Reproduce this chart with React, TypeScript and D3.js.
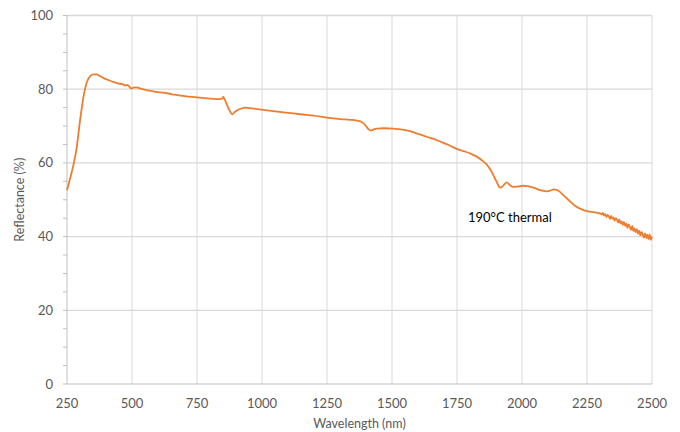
import * as d3 from 'd3';

// wavelength (nm) and reflectance (%)
const wavelengths = [
  250, 262, 274, 287, 300, 313, 326, 340, 352, 364, 376, 388, 405, 427, 445, 465, 475, 483, 490, 496,
  505, 515, 540, 569, 600, 635, 665, 696, 730, 758, 790, 826, 845, 851, 856, 862, 870, 880, 886, 895,
  905, 915, 935, 960, 1005, 1050, 1100, 1146, 1200, 1249, 1300, 1340, 1364, 1380, 1390, 1400, 1410, 1418, 1430, 1441,
  1470, 1505, 1540, 1569, 1600, 1633, 1660, 1685, 1720, 1749, 1775, 1800, 1826, 1851, 1864, 1878, 1890, 1903, 1915, 1925,
  1941, 1955, 1967, 1985, 2005, 2020, 2037, 2055, 2069, 2085, 2095, 2110, 2123, 2133, 2145, 2160, 2172, 2190, 2205, 2223,
  2240, 2261, 2285, 2300, 2306, 2311, 2316, 2320, 2325, 2329, 2334, 2338, 2343, 2347, 2352, 2356, 2361, 2365, 2370, 2374,
  2379, 2383, 2388, 2392, 2397, 2401, 2406, 2410, 2415, 2419, 2424, 2428, 2433, 2437, 2442, 2446, 2451, 2455, 2460, 2464,
  2469, 2473, 2478, 2482, 2487, 2491, 2495, 2500,
];
const reflectance = [
  52.6, 55.8, 59.2, 64.0, 71.4, 77.8, 81.8, 83.6, 84.0, 84.0, 83.6, 83.1, 82.6, 82.0, 81.6, 81.3, 81.0, 81.2, 80.7, 80.2,
  80.4, 80.5, 80.0, 79.6, 79.2, 78.9, 78.5, 78.2, 77.9, 77.7, 77.5, 77.3, 77.4, 77.9, 77.3, 76.3, 75.0, 73.6, 73.2, 73.8,
  74.3, 74.6, 75.0, 74.8, 74.4, 74.0, 73.6, 73.2, 72.8, 72.3, 71.9, 71.7, 71.5, 71.2, 70.8, 70.0, 69.1, 68.8, 69.1, 69.3,
  69.4, 69.3, 69.0, 68.6, 67.9, 67.1, 66.5, 65.8, 64.8, 63.8, 63.2, 62.6, 61.7, 60.4, 59.6, 58.2, 56.7, 54.8, 53.3, 53.6,
  54.7, 53.9, 53.5, 53.6, 53.8, 53.7, 53.4, 53.0, 52.6, 52.4, 52.3, 52.5, 52.8, 52.7, 52.2, 51.2, 50.4, 49.2, 48.3, 47.6,
  47.1, 46.8, 46.5, 46.3, 46.0, 46.4, 45.7, 46.1, 45.3, 45.9, 45.5, 44.8, 45.6, 44.9, 45.2, 44.3, 45.0, 44.6, 43.8, 44.7,
  43.6, 44.1, 43.2, 44.0, 42.9, 43.5, 42.4, 43.3, 42.6, 41.8, 42.9, 41.5, 42.2, 41.2, 42.0, 40.8, 41.6, 40.3, 41.3, 40.6,
  39.7, 40.9, 39.6, 40.5, 39.3, 40.6, 39.1, 40.0,
];

const xTicks = [250, 500, 750, 1000, 1250, 1500, 1750, 2000, 2250, 2500];
const yTicks = [0, 20, 40, 60, 80, 100];
const yMinor = d3.range(0, 101, 5);

const W = 680;
const H = 432;
const left = 67;
const right = 652;
const top = 15.5;
const bottom = 384;
const font = 'Lato, "Open Sans", sans-serif';
const textColor = '#595959';

export default function App() {
  const x = d3.scaleLinear().domain([250, 2500]).range([left, right]);
  const y = d3.scaleLinear().domain([0, 100]).range([bottom, top]);
  const points = wavelengths.map((w, i) => [w, reflectance[i]] as [number, number]);
  const line = d3
    .line<[number, number]>()
    .x(d => x(d[0]))
    .y(d => y(d[1]))
    .curve(d3.curveMonotoneX);

  return (
    <svg width={W} height={H} style={{ position: 'absolute', left: 0, top: 0, background: '#fff' }}>
      {/* grid */}
      {yTicks.filter(t => t > 0).map(t => (
        <line key={'gy' + t} x1={left} x2={right} y1={y(t)} y2={y(t)} stroke="#d9d9d9" strokeWidth={1.3} />
      ))}
      {xTicks.filter(t => t > 250).map(t => (
        <line key={'gx' + t} x1={x(t)} x2={x(t)} y1={top} y2={bottom} stroke="#d9d9d9" strokeWidth={1} />
      ))}
      {/* axes */}
      <line x1={left} x2={left} y1={top} y2={bottom} stroke="#bfbfbf" />
      <line x1={left} x2={right} y1={bottom} y2={bottom} stroke="#bfbfbf" />
      {yMinor.map(t => (
        <line key={'tm' + t} x1={left - 4} x2={left} y1={y(t)} y2={y(t)} stroke="#bfbfbf" />
      ))}
      {/* tick labels */}
      {yTicks.map(t => (
        <text key={'ly' + t} x={53} y={y(t)} dy="0.35em" textAnchor="end" fontFamily={font} fontSize={13} fill={textColor}>
          {t}
        </text>
      ))}
      {xTicks.map(t => (
        <text key={'lx' + t} x={x(t)} y={408} textAnchor="middle" fontFamily={font} fontSize={13} fill={textColor}>
          {t}
        </text>
      ))}
      {/* axis titles */}
      <text x={(left + right) / 2} y={428} textAnchor="middle" fontFamily={font} fontSize={12.5} fill={textColor}>
        Wavelength (nm)
      </text>
      <text
        transform={`translate(24,${(top + bottom) / 2}) rotate(-90)`}
        textAnchor="middle"
        fontFamily={font}
        fontSize={12.5}
        fill={textColor}
      >
        Reflectance (%)
      </text>
      {/* series */}
      <path d={line(points) ?? ''} fill="none" stroke="#ed7d31" strokeWidth={1.8} strokeLinejoin="round" />
      <text x={468} y={222} fontFamily={font} fontSize={13} fill="#000">
        190°C thermal
      </text>
    </svg>
  );
}
